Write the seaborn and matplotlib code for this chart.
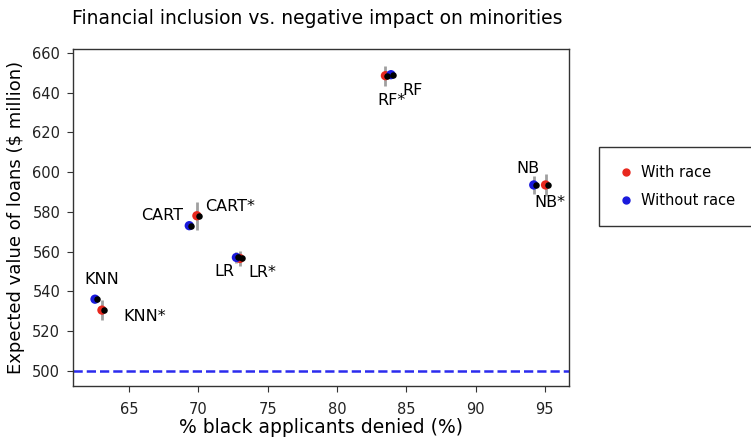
import matplotlib
matplotlib.use("Agg")
import matplotlib.pyplot as plt
import matplotlib.transforms as mtransforms
import seaborn as sns
import pandas as pd

# Model results: % of black applicants denied vs. expected loan value
models = ["KNN", "CART", "LR", "RF", "NB"]
denied_with_race = [63.05, 69.9, 73.0, 83.5, 95.05]
denied_without_race = [62.55, 69.35, 72.75, 83.9, 94.2]
value_with_race = [530.5, 578.0, 556.5, 648.5, 593.5]
value_without_race = [536.0, 573.0, 557.0, 649.0, 593.5]
err_with_race = [5.0, 7.0, 4.0, 5.0, 5.5]
err_without_race = [1.0, 1.0, 3.0, 1.5, 4.5]
baseline_value = 500

# Label offsets (pixels) for each model's annotations
offsets_with = [(43, -6), (33, 9), (22, -14), (6, -25), (4, -18)]
offsets_without = [(7, 20), (-27, 10), (-12, -14), (22, -16), (-6, 16)]

sns.set_style("ticks", rc={"text.color": "black", "axes.labelcolor": "black",
                           "xtick.color": "#222222", "ytick.color": "#222222"})
plt.rcParams["font.family"] = ["DejaVu Sans"]

df = pd.DataFrame({
    "model": models * 2,
    "denied": denied_with_race + denied_without_race,
    "value": value_with_race + value_without_race,
    "err": err_with_race + err_without_race,
    "group": ["With race"] * len(models) + ["Without race"] * len(models),
})

fig = plt.figure(figsize=(7.51, 4.42), dpi=100)
ax = fig.add_axes([0.0968, 0.1267, 0.661, 0.7623])

# Error bars in grey
ax.errorbar(df["denied"], df["value"], yerr=df["err"], fmt="none",
            ecolor="#a0a0a0", elinewidth=2.0, capsize=0, zorder=2)

palette = {"With race": "#e8281e", "Without race": "#1a1adc"}
sns.scatterplot(data=df, x="denied", y="value", hue="group", palette=palette,
                s=45, linewidth=0, ax=ax, zorder=3, legend=False)

# Dark centre dot shifted slightly right
shift = mtransforms.offset_copy(ax.transData, fig=fig, x=2, y=0, units="dots")
ax.scatter(df["denied"], df["value"], s=22, color="black", zorder=4,
           transform=shift, linewidths=0)

ax.axhline(baseline_value, color="#2b2bee", linestyle="--", linewidth=1.8, zorder=1)

for i, m in enumerate(models):
    ax.annotate(m + "*", (denied_with_race[i], value_with_race[i]),
                xytext=offsets_with[i], textcoords="offset pixels",
                ha="center", va="center", fontsize=11.5)
    ax.annotate(m, (denied_without_race[i], value_without_race[i]),
                xytext=offsets_without[i], textcoords="offset pixels",
                ha="center", va="center", fontsize=11.5)

ax.set_xlim(60.94, 96.75)
ax.set_ylim(492.3, 661.9)
ax.set_xticks([65, 70, 75, 80, 85, 90, 95])
ax.set_yticks([500, 520, 540, 560, 580, 600, 620, 640, 660])
ax.tick_params(labelsize=10.5, length=4, color="#333333", pad=5)
ax.tick_params(axis="x", pad=7.5)
for sp in ax.spines.values():
    sp.set_color("#333333")
    sp.set_linewidth(1.0)

ax.set_xlabel("% black applicants denied (%)", fontsize=13.5, labelpad=0.5)
ax.set_ylabel("Expected value of loans ($ million)", fontsize=13, labelpad=5)
fig.text(0.422, 0.959, "Financial inclusion vs. negative impact on minorities",
         ha="center", va="center", fontsize=13.5)

# Legend outside the axes on the right
handles = [
    plt.Line2D([], [], marker="o", linestyle="", color=palette["With race"], markersize=5),
    plt.Line2D([], [], marker="o", linestyle="", color=palette["Without race"], markersize=5),
]
leg = fig.legend(handles, ["With race", "Without race"],
                 loc="upper left", bbox_to_anchor=(0.7976, 0.6674),
                 borderaxespad=0, fontsize=10.5, frameon=True, fancybox=False,
                 handletextpad=0.4, borderpad=1.25, labelspacing=0.85,
                 handlelength=1.2)
leg.get_frame().set_edgecolor("black")
leg.get_frame().set_linewidth(1.0)

fig.savefig("out.png", dpi=100)
